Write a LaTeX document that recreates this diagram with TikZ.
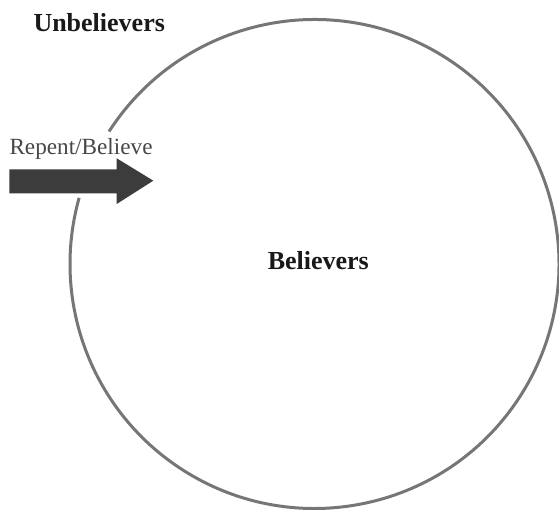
\documentclass[tikz,border=0pt]{standalone}
\usepackage{fontspec}
\setmainfont{Liberation Serif}
\begin{document}
\begin{tikzpicture}[x=1pt,y=1pt,
  ring/.style={draw=ringgray,line width=3pt},
  bigarrow/.style={fill=arrowgray,draw=none},
  title/.style={inner sep=0pt,font=\fontsize{26}{30}\selectfont\bfseries,text=black!90},
  label/.style={inner sep=0pt,font=\fontsize{23.2}{26}\selectfont,text=labelgray}]
\definecolor{ringgray}{HTML}{767676}
\definecolor{arrowgray}{HTML}{3C3C3C}
\definecolor{labelgray}{HTML}{474747}
\useasboundingbox (0,0) rectangle (559,510);
\fill[white] (0,0) rectangle (559,510);
\coordinate (c) at (314.5,246);
\draw[ring] (c) ++(147.2:244.5) arc[start angle=147.2,end angle=-195.7,radius=244.5];
\fill[bigarrow] (9.3,340.7) -- (116.7,340.7) -- (116.7,351.7) -- (153.3,329.3)
  -- (116.7,306) -- (116.7,316.7) -- (9.3,316.7) -- cycle;
\node[title,anchor=base west] (unb) at (33.3,478.3) {Unbelievers};
\node[title,anchor=base] (bel) at (318.3,240) {Believers};
\node[label,anchor=base west] (rep) at (9.3,355) {Repent/Believe};
\end{tikzpicture}
\end{document}
